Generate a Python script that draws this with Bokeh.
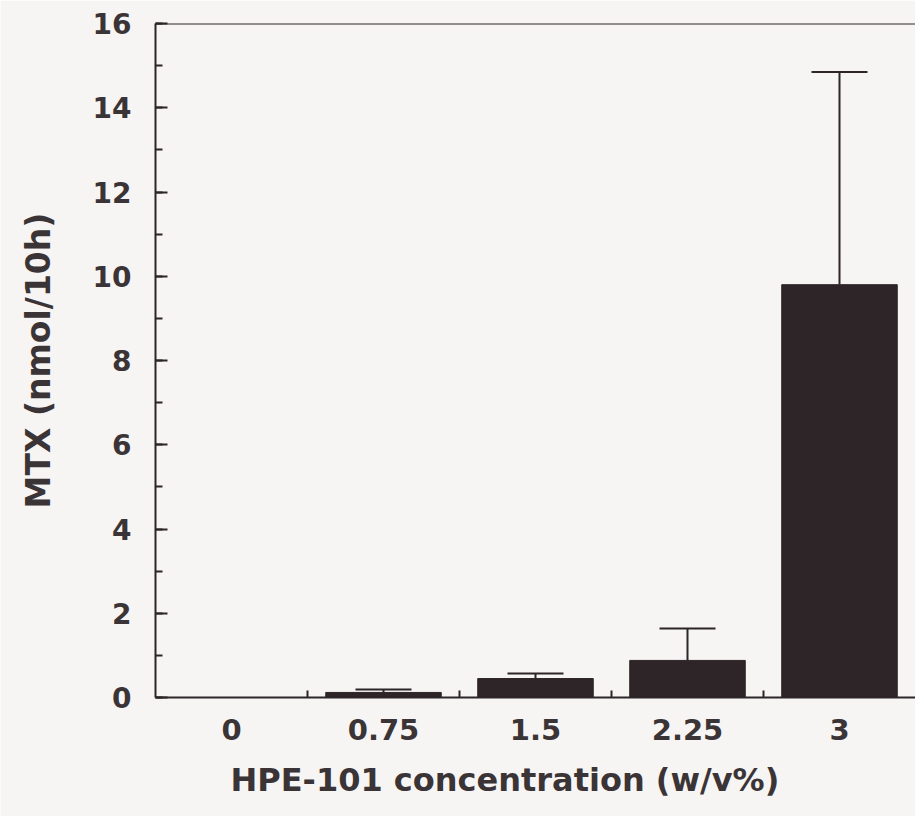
from bokeh.plotting import figure
from bokeh.models import Range1d, FixedTicker, Whisker, ColumnDataSource, TeeHead, Span, Title
from bokeh.embed import file_html
from bokeh.resources import INLINE

categories = ["0", "0.75", "1.5", "2.25", "3"]
means = [0.0, 0.12, 0.45, 0.88, 9.8]
sds = [0.0, 0.07, 0.12, 0.76, 5.05]
y_ticks = [0, 2, 4, 6, 8, 10, 12, 14, 16]
x_title = "HPE-101 concentration (w/v%)"
y_title = "MTX (nmol/10h)"

xpos = [i + 0.5 for i in range(len(categories))]

BG = "#f7f4f4"
INK = "#2d2527"
TXT = "#3a3436"
FONT = "DejaVu Sans"

p = figure(width=915, height=816, output_backend="svg", toolbar_location=None,
           x_range=Range1d(0, 5), y_range=Range1d(0, 16),
           background_fill_color=BG, border_fill_color=BG,
           min_border_left=155, min_border_right=0, min_border_top=23, min_border_bottom=119)
p.grid.visible = False
p.outline_line_color = None
p.add_layout(Span(location=16, dimension="width", line_color=INK, line_width=2))

p.vbar(x=xpos, top=means, bottom=0, width=0.76, fill_color=INK, line_color=INK)

wx = [x for x, s in zip(xpos, sds) if s > 0]
wl = [m for m, s in zip(means, sds) if s > 0]
wu = [m + s for m, s in zip(means, sds) if s > 0]
wsrc = ColumnDataSource(dict(x=wx, lower=wl, upper=wu))
w = Whisker(base="x", upper="upper", lower="lower", source=wsrc, line_color=INK, line_width=2,
            upper_head=TeeHead(size=56, line_color=INK, line_width=2), lower_head=None)
p.add_layout(w)

xa = p.xaxis[0]
xa.ticker = FixedTicker(ticks=xpos, minor_ticks=[1, 2, 3, 4])
xa.major_label_overrides = {x: c for x, c in zip(xpos, categories)}
xa.major_tick_line_color = None
xa.minor_tick_in = 7
xa.minor_tick_out = 0
xa.minor_tick_line_width = 2
xa.minor_tick_line_color = INK
xa.axis_line_color = INK
xa.axis_line_width = 2
xa.major_label_standoff = 15
xa.major_label_text_font = FONT
xa.major_label_text_font_style = "bold"
xa.major_label_text_font_size = "29px"
xa.major_label_text_color = TXT

# x title sits left of the frame centre in the (cropped) reference
t = Title(text=x_title, align="left", offset=75, standoff=32,
          text_font=FONT, text_font_style="bold", text_font_size="32px", text_color=TXT)
p.add_layout(t, "below")

ya = p.yaxis[0]
ya.ticker = FixedTicker(ticks=y_ticks, minor_ticks=list(range(0, 17)))
ya.major_tick_in = 12
ya.major_tick_out = 0
ya.minor_tick_in = 7
ya.minor_tick_out = 0
ya.major_tick_line_width = 2
ya.minor_tick_line_width = 2
ya.major_tick_line_color = INK
ya.minor_tick_line_color = INK
ya.axis_line_color = INK
ya.axis_line_width = 2
ya.major_label_standoff = 24
ya.major_label_text_font = FONT
ya.major_label_text_font_style = "bold"
ya.major_label_text_font_size = "28px"
ya.major_label_text_color = TXT
ya.axis_label = y_title
ya.axis_label_text_font = FONT
ya.axis_label_text_font_style = "bold"
ya.axis_label_text_font_size = "33px"
ya.axis_label_text_color = TXT
ya.axis_label_standoff = 32

open("out.html", "w").write(file_html(p, INLINE))
